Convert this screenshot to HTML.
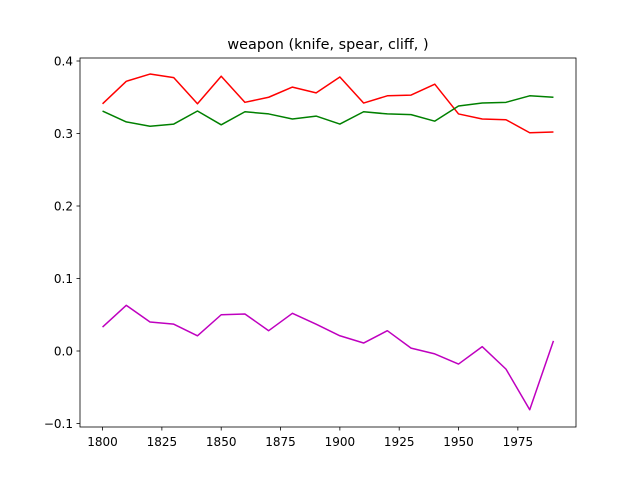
<!DOCTYPE html>
<html><head><meta charset="utf-8"><style>
html,body{margin:0;padding:0;background:#fff;}
svg text{font-family:"DejaVu Sans","Liberation Sans",sans-serif;}
</style></head><body>
<svg id="chart" width="640" height="480" xmlns="http://www.w3.org/2000/svg">
<rect width="640" height="480" fill="#fff"/>
<text x="328" y="49" font-size="14.4" text-anchor="middle">weapon (knife, spear, cliff, )</text>
<g id="marks"></g>
<g id="axes"></g>
<rect x="80" y="58" width="496" height="369" fill="none" stroke="#000" stroke-width="0.8"/>
</svg>
<script>
const years = [1800,1810,1820,1830,1840,1850,1860,1870,1880,1890,1900,1910,1920,1930,1940,1950,1960,1970,1980,1990];
const redSeries = [0.341,0.372,0.382,0.377,0.341,0.379,0.343,0.350,0.364,0.356,0.378,0.342,0.352,0.353,0.368,0.327,0.320,0.319,0.301,0.302];
const greenSeries = [0.331,0.316,0.310,0.313,0.331,0.312,0.330,0.327,0.320,0.324,0.313,0.330,0.327,0.326,0.317,0.338,0.342,0.343,0.352,0.350];
const magentaSeries = [0.033,0.063,0.040,0.037,0.021,0.050,0.051,0.028,0.052,0.037,0.021,0.011,0.028,0.004,-0.004,-0.018,0.006,-0.025,-0.081,0.014];
const xTicks = [1800,1825,1850,1875,1900,1925,1950,1975];
const yTicks = [-0.1,0.0,0.1,0.2,0.3,0.4];

const NS = "http://www.w3.org/2000/svg";
function xs(v){ return 80 + (v-1790.5)*(496/209); }
function ys(v){ return 351 - v*725; }
const marks = document.getElementById('marks');
const axes = document.getElementById('axes');

function line(data, color, name){
  const p = document.createElementNS(NS,'polyline');
  p.setAttribute('points', data.map((v,i)=>xs(years[i])+','+ys(v)).join(' '));
  p.setAttribute('fill','none');
  p.setAttribute('stroke',color);
  p.setAttribute('stroke-width','1.5');
  p.setAttribute('stroke-linejoin','round');
  
  
  marks.appendChild(p);
}
line(redSeries,'#ff0000','series-red');
line(greenSeries,'#008000','series-green');
line(magentaSeries,'#bf00bf','series-magenta');

xTicks.forEach(t=>{
  const x = xs(t);
  const l = document.createElementNS(NS,'line');
  l.setAttribute('x1',x); l.setAttribute('x2',x); l.setAttribute('y1',427); l.setAttribute('y2',430.5);
  l.setAttribute('stroke','#000'); l.setAttribute('stroke-width','0.8');
  
  
  axes.appendChild(l);
  const tx = document.createElementNS(NS,'text');
  tx.setAttribute('x',x); tx.setAttribute('y',446); tx.setAttribute('font-size','12'); tx.setAttribute('text-anchor','middle');
  tx.textContent = t;
  
  
  axes.appendChild(tx);
});
yTicks.forEach(t=>{
  const y = ys(t);
  const l = document.createElementNS(NS,'line');
  l.setAttribute('x1',76.5); l.setAttribute('x2',80); l.setAttribute('y1',y); l.setAttribute('y2',y);
  l.setAttribute('stroke','#000'); l.setAttribute('stroke-width','0.8');
  
  
  axes.appendChild(l);
  const tx = document.createElementNS(NS,'text');
  tx.setAttribute('x',73); tx.setAttribute('y',y+4.5); tx.setAttribute('font-size','12'); tx.setAttribute('text-anchor','end');
  tx.textContent = (t<0?'\u22120.1':t.toFixed(1));
  
  
  axes.appendChild(tx);
});
</script>
</body></html>
